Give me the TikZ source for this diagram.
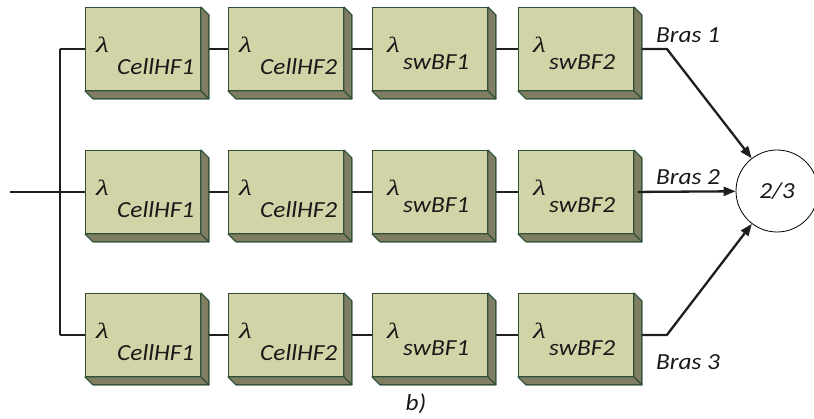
\documentclass[tikz,border=0pt]{standalone}
\usepackage{graphicx}
\usepackage{fontspec}
\setmainfont{Carlito}
\newfontfamily\lamfont{Liberation Serif}
\usetikzlibrary{arrows.meta,backgrounds}
\definecolor{boxfill}{RGB}{211,211,168}
\definecolor{boxside}{RGB}{128,126,98}
\definecolor{boxedge}{RGB}{45,80,55}
\definecolor{wirec}{RGB}{30,30,30}
\newcommand{\wide}[1]{\scalebox{1.1}[1]{#1}}
\begin{document}
\begin{tikzpicture}[x=1pt,y=-1pt,
  blk/.style={draw=boxedge, line width=0.9pt, fill=boxfill, minimum width=115pt,
    minimum height=83pt, inner sep=0pt, anchor=north west},
  side/.style={draw=boxedge, line width=0.9pt, fill=boxside, line join=round},
  wire/.style={draw=wirec, line width=2.3pt},
  arr/.style={wire, -{Triangle[length=12pt,width=9pt]}},
  txt/.style={font=\fontsize{23}{25}\selectfont\itshape, inner sep=0pt, text=black!90},
  lamtxt/.style={font=\lamfont\itshape\fontsize{22}{22}\selectfont, inner sep=0pt, anchor=base west, text=black!90}]
\useasboundingbox (0,0) rectangle (814,419);

% boxes
\foreach \r/\y in {1/7,2/150,3/293}{
  \foreach \c/\x/\t/\lx/\sx/\sy in {1/85/CellHF1/11/32/68,2/228/CellHF2/11/32/68,3/372/swBF1/15/31/63,4/518/swBF2/15/31/63}{
    \node[blk] (b\r\c) at (\x,\y) {};
    \node[lamtxt] (g\r\c) at ([shift={(\lx,46)}]b\r\c.north west) {\scalebox{1.35}[1]{λ}};
    \node[txt, anchor=base west] (t\r\c) at ([shift={(\sx,\sy)}]b\r\c.north west) {\wide{\t}};
    \fill[side] (b\r\c.north east) -- ++(8,8) -- ([shift={(8,8)}]b\r\c.south east)
      -- (b\r\c.south east) -- cycle;
    \fill[side] (b\r\c.south west) -- ++(8,8) -- ([shift={(8,8)}]b\r\c.south east)
      -- (b\r\c.south east) -- cycle;
    \draw[side, fill=none] (b\r\c.north east) -- ++(8,8) -- ([shift={(8,8)}]b\r\c.south east)
      -- ([shift={(8,8)}]b\r\c.south west) -- (b\r\c.south west);
    \draw[side, fill=none] (b\r\c.south east) -- ++(8,8);
  }
}

% connectors behind boxes
\begin{scope}[on background layer]
  \coordinate (s1) at ([xshift=-25pt]b11.west);
  \coordinate (s3) at ([xshift=-25pt]b31.west);
  \coordinate (in) at ([xshift=-75pt]b21.west);
  \draw[wire] (s1) -- (s3);
  \draw[wire] (s1) -- (b11.west);
  \draw[wire] (s3) -- (b31.west);
  \draw[wire] (in) -- (b21.west);
  \foreach \r in {1,2,3}{
    \draw[wire] (b\r1.east) -- (b\r2.west);
    \draw[wire] (b\r2.east) -- (b\r3.west);
    \draw[wire] (b\r3.east) -- (b\r4.west);
  }
\end{scope}

% vote node
\node[circle, draw, line width=0.8pt, minimum size=82pt, fill=white, txt] (c) at (777,191) {\wide{2/3}};

\coordinate (k1) at ([xshift=33pt]b14.east);
\coordinate (k3) at ([xshift=33pt]b34.east);
\draw[arr] ([xshift=8pt]b14.east) -- (k1) -- (c);
\draw[arr] ([xshift=4pt]b24.east) -- (c);
\draw[arr] ([xshift=8pt]b34.east) -- (k3) -- (c);

\node[txt, anchor=base west] (l1) at (656,43) {\wide{Bras 1}};
\node[txt, anchor=base west] (l2) at (656,185) {\wide{Bras 2}};
\node[txt, anchor=base west] (l3) at (656,370) {\wide{Bras 3}};
\node[txt, anchor=base] (cap) at (416,410) {\wide{b)}};
\end{tikzpicture}
\end{document}
